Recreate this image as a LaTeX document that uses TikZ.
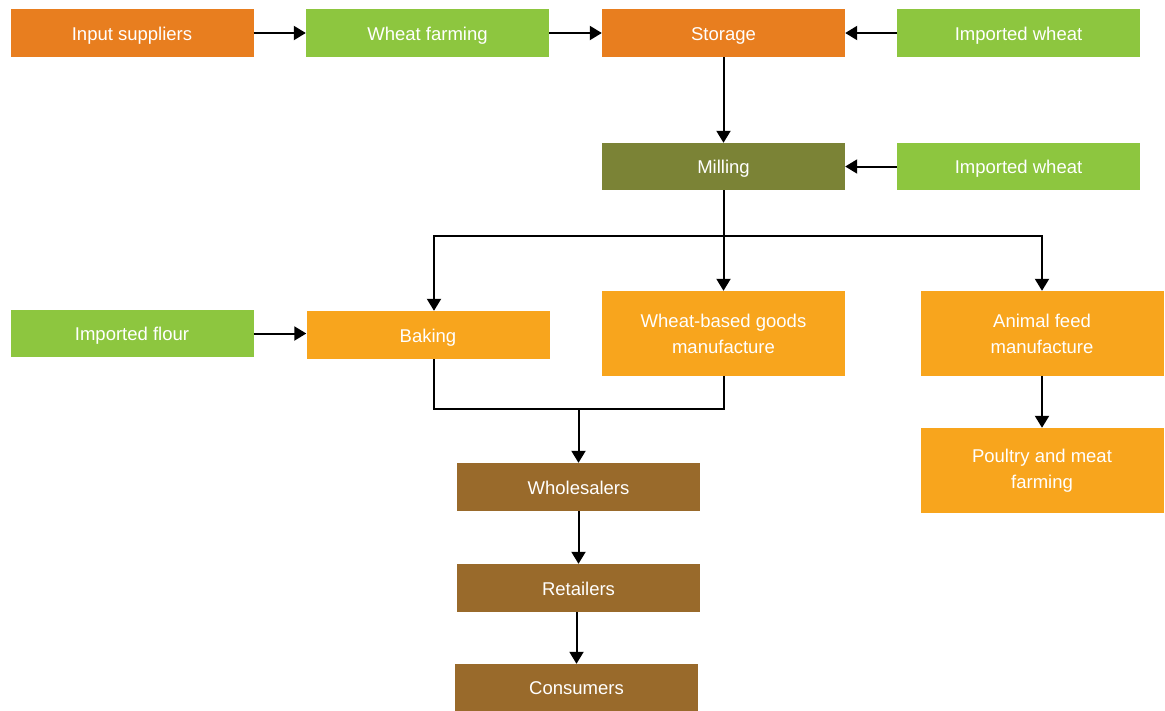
\documentclass[tikz,border=0pt]{standalone}
\usepackage{fontspec}
\setmainfont{Liberation Sans}
\usetikzlibrary{arrows.meta}
\definecolor{cOrange}{HTML}{E87E1F}
\definecolor{cGreen}{HTML}{8DC63F}
\definecolor{cLight}{HTML}{F8A51D}
\definecolor{cOlive}{HTML}{7B8336}
\definecolor{cBrown}{HTML}{996A2B}
\tikzset{
  box/.style={rectangle, inner sep=0pt, minimum width=243pt, text=white, align=center,
    font=\fontsize{18.5}{26}\selectfont, draw=none},
  onebox/.style={box, minimum height=48pt, text height=14pt, text depth=0pt},
  twobox/.style={box, minimum height=85pt},
  conn/.style={line width=2pt, -{Triangle[width=14pt,length=12pt]}},
  plain/.style={line width=2pt}
}
\begin{document}
\begin{tikzpicture}[x=1pt,y=-1pt]
\useasboundingbox (0,0) rectangle (1165,710);
\fill[white] (0,0) rectangle (1165,710);
\node[onebox, fill=cOrange] (inp) at (132,33) {Input suppliers};
\node[onebox, fill=cGreen] (farm) at (427.5,33) {Wheat farming};
\node[onebox, fill=cOrange] (stor) at (723.5,33) {Storage};
\node[onebox, fill=cGreen] (imp1) at (1018.5,33) {Imported wheat};
\node[onebox, fill=cOlive, minimum height=47pt] (mill) at (723.5,166.5) {Milling};
\node[onebox, fill=cGreen, minimum height=47pt] (imp2) at (1018.5,166.5) {Imported wheat};
\node[onebox, fill=cGreen, minimum height=47pt] (flour) at (132,333.5) {Imported flour};
\node[onebox, fill=cLight] (bake) at (428,335) {Baking};
\node[twobox, fill=cLight] (wbg) at (723.5,333.5) {Wheat-based goods\\manufacture};
\node[twobox, fill=cLight] (feed) at (1042,333.5) {Animal feed\\manufacture};
\node[twobox, fill=cLight] (poul) at (1042,470.5) {Poultry and meat\\farming};
\node[onebox, fill=cBrown] (whole) at (578.5,487) {Wholesalers};
\node[onebox, fill=cBrown] (ret) at (578.5,588) {Retailers};
\node[onebox, fill=cBrown, minimum height=47pt] (cons) at (576.5,687.5) {Consumers};
\coordinate (split) at (723.5,236);
\coordinate (join) at (578.5,409);
\draw[conn] (inp) -- (farm);
\draw[conn] (farm) -- (stor);
\draw[conn] (imp1) -- (stor);
\draw[conn] (stor) -- (mill);
\draw[conn] (imp2) -- (mill);
\draw[conn] (flour.east) -- (flour.east -| bake.west);
\draw[plain] (mill.south) -- (split);
\draw[conn] (split) -- (wbg.north);
\draw[conn] (split) -| (bake.north -| 434,0);
\draw[conn] (split) -| (feed.north);
\draw[plain] (bake.south -| 434,0) |- (join) -| (wbg.south);
\draw[conn] (join) -- (whole.north);
\draw[conn] (whole) -- (ret);
\draw[conn] (ret.south -| cons.north) -- (cons.north);
\draw[conn] (feed) -- (poul);
\end{tikzpicture}
\end{document}
